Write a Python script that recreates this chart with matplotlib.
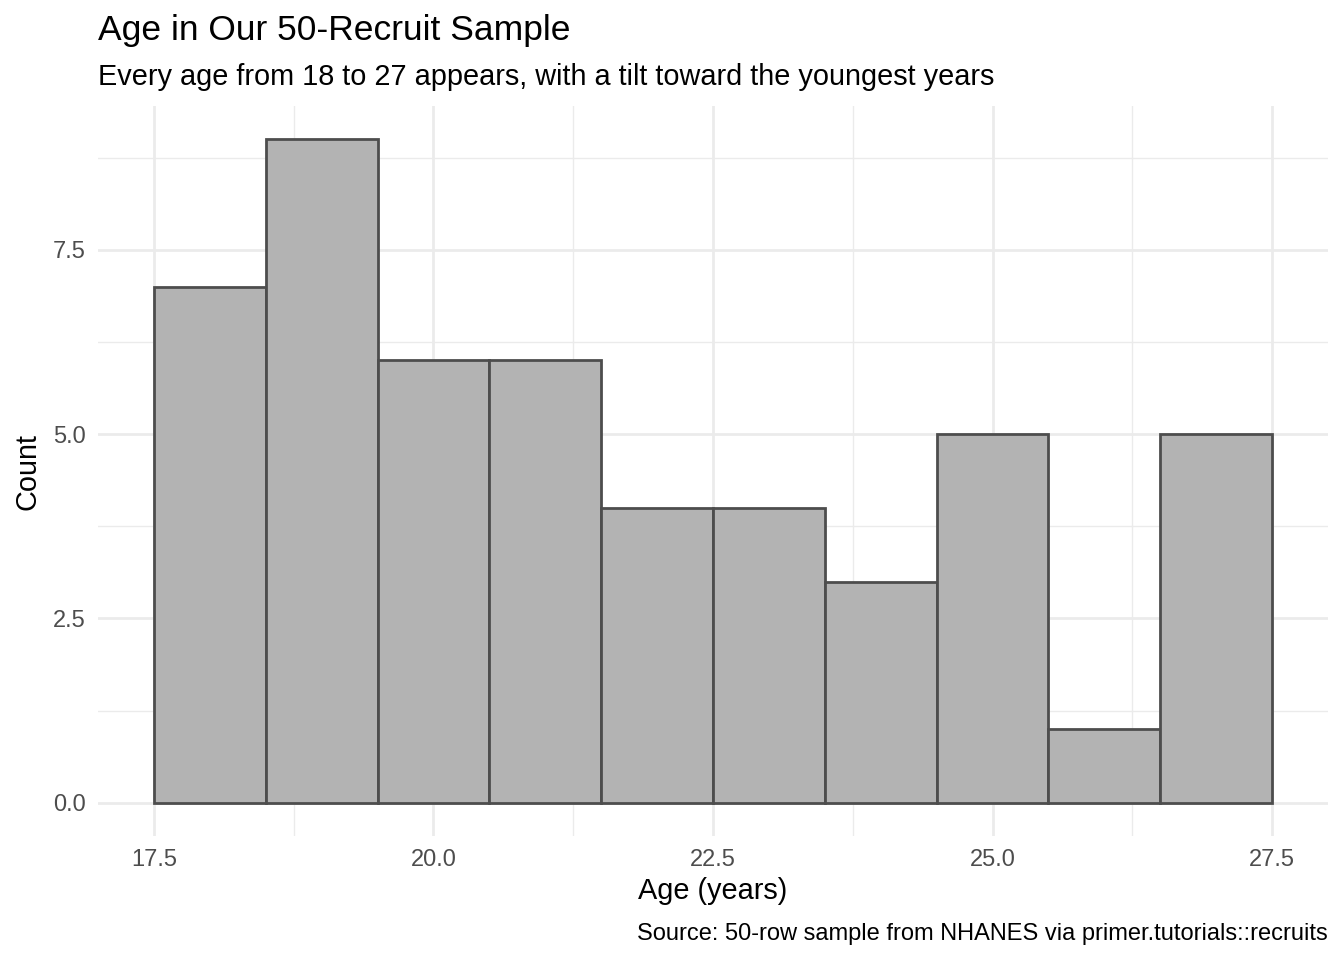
import matplotlib
matplotlib.use("Agg")
import matplotlib.pyplot as plt
import numpy as np

# Data
bin_edges = [17.5, 18.5, 19.5, 20.5, 21.5, 22.5, 23.5, 24.5, 25.5, 26.5, 27.5]
counts = [7, 9, 6, 6, 4, 4, 3, 5, 1, 5]
x_major = [17.5, 20.0, 22.5, 25.0, 27.5]
x_minor = [18.75, 21.25, 23.75, 26.25]
y_major = [0.0, 2.5, 5.0, 7.5]
y_minor = [1.25, 3.75, 6.25, 8.75]

title = "Age in Our 50-Recruit Sample"
subtitle = "Every age from 18 to 27 appears, with a tilt toward the youngest years"
caption = "Source: 50-row sample from NHANES via primer.tutorials::recruits"

plt.rcParams['font.family'] = ['Liberation Sans', 'DejaVu Sans']

fig = plt.figure(figsize=(13.44, 9.6), dpi=100)
ax = fig.add_axes([98/1344, 1-836/960, (1328-98)/1344, (836-106)/960])

lefts = np.array(bin_edges[:-1])
widths = np.diff(bin_edges)
ax.bar(lefts, counts, width=widths, align='edge', color='#B3B3B3',
       edgecolor='#4D4D4D', linewidth=2.0, zorder=3)

ax.set_xlim(17.0, 28.0)
ax.set_ylim(-0.45, 9.45)
ax.set_xticks(x_major)
ax.set_xticks(x_minor, minor=True)
ax.set_yticks(y_major)
ax.set_yticks(y_minor, minor=True)
ax.set_xticklabels([f"{v:.1f}" for v in x_major])
ax.set_yticklabels([f"{v:.1f}" for v in y_major])

ax.grid(which='major', color='#EBEBEB', linewidth=2.0, zorder=0)
ax.grid(which='minor', color='#EBEBEB', linewidth=1.0, zorder=0)
for s in ax.spines.values():
    s.set_visible(False)
ax.tick_params(which='both', length=0)
ax.tick_params(axis='both', labelsize=17, labelcolor='#4D4D4D', pad=9)

ax.set_xlabel("Age (years)", fontsize=20.8, color='black', labelpad=5)
ax.set_ylabel("Count", fontsize=20.8, color='black', labelpad=8)

fig.text(98/1344, 1-40/960, title, fontsize=25.5, ha='left', va='baseline')
fig.text(98/1344, 1-85/960, subtitle, fontsize=20.8, ha='left', va='baseline')
fig.text(1328/1344, 1-940/960, caption, fontsize=17, ha='right', va='baseline')

fig.savefig("out.png", dpi=100, facecolor='white')
